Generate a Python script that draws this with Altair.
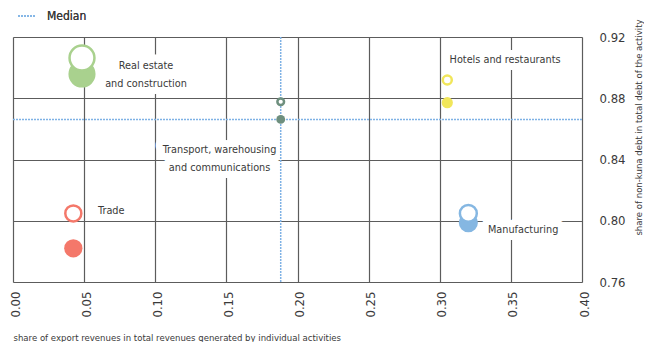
import math
import statistics
import altair as alt
import pandas as pd

# ---- data ----
sectors = ["Real estate and construction", "Hotels and restaurants",
           "Transport, warehousing and communications", "Trade", "Manufacturing"]
export_share = [0.0485, 0.3053, 0.1882, 0.0424, 0.3201]
debt_prev = [0.9063, 0.8919, 0.8777, 0.8048, 0.8048]   # open circles
debt_curr = [0.8958, 0.8771, 0.8662, 0.7820, 0.7987]   # filled circles
bubble = [735, 125, 79, 333, 366]
colors = ["#a9d18e", "#f1e65a", "#6e8f7e", "#f4786a", "#85b7e2"]

label_text = ["Real estate\nand construction", "Hotels and restaurants",
              "Transport, warehousing\nand communications", "Trade", "Manufacturing"]
label_x = [0.0935, 0.3459, 0.1452, 0.0598, 0.3339]
label_y = [0.9011, 0.9050, 0.8460, 0.8065, 0.7939]
label_align = ["center", "center", "center", "left", "left"]

x_ticks = [0.0, 0.05, 0.10, 0.15, 0.20, 0.25, 0.30, 0.35, 0.40]
y_ticks = [0.76, 0.80, 0.84, 0.88, 0.92]

FONT = "Liberation Sans Narrow, DejaVu Sans Condensed, Roboto Condensed, Liberation Sans, sans-serif"
TXT = "#3a3a3a"
MED = "#7fb2e5"
GRID = "#5c5c5c"
STROKE_W = 2.5

pts = pd.DataFrame({"sector": sectors, "x": export_share, "prev": debt_prev,
                    "curr": debt_curr, "w": bubble})
lab = pd.DataFrame({"text": label_text, "x": label_x, "y": label_y, "align": label_align})
med = pd.DataFrame({"lab": ["Median"],
                    "mx": [statistics.median(export_share)],
                    "my": [statistics.median(debt_curr)]})

xs = alt.Scale(domain=[0, 0.4], nice=False, zero=False)
ys = alt.Scale(domain=[0.76, 0.92], nice=False, zero=False)
cs = alt.Scale(domain=sectors, range=colors)

x_axis = alt.Axis(values=x_ticks, format=".2f", labelAngle=270, labelAlign="right",
                  labelBaseline="middle", labelPadding=9, labelOffset=2,
                  ticks=False, domain=False,
                  grid=True, gridColor=GRID, gridWidth=1.2, labelFontSize=13,
                  labelColor=TXT, labelFont=FONT,
                  title="share of export revenues in total revenues generated by individual activities",
                  titleAnchor="start", titleAlign="left", titleX=0, titleY=55,
                  titleBaseline="middle", titleFontSize=9.5, titleFontWeight="normal",
                  titleColor=TXT, titleFont=FONT)
y_axis = alt.Axis(values=y_ticks, format=".2f", orient="right", labelPadding=17,
                  labelAlign="left", ticks=False, domain=False, grid=True,
                  gridColor=GRID, gridWidth=1.2, labelFontSize=13, labelColor=TXT,
                  labelFont=FONT,
                  title="share of non-kuna debt in total debt of the activity",
                  titleAngle=270, titleX=56, titleY=90, titleAlign="center",
                  titleBaseline="middle", titleFontSize=9.5, titleFontWeight="normal",
                  titleColor=TXT, titleFont=FONT)

base_pts = alt.Chart(pts)


def text_layers(align, halo):
    props = dict(align=align, baseline="middle", lineBreak="\n", lineHeight=18,
                 fontSize=10.8, font=FONT)
    if halo:
        props.update(stroke="white", strokeWidth=14, strokeJoin="round", fill="white")
    else:
        props.update(color=TXT)
    return alt.Chart(lab).transform_filter(alt.datum.align == align).mark_text(**props).encode(
        x=alt.X("x:Q", scale=xs, axis=x_axis),
        y=alt.Y("y:Q", scale=ys, axis=y_axis),
        text="text:N")


halo = text_layers("center", True) + text_layers("left", True)
texts = text_layers("center", False) + text_layers("left", False)

med_legend = alt.Legend(title=None, orient="none", legendX=4, legendY=-31,
                        symbolType="stroke", symbolSize=324, symbolStrokeWidth=1.5,
                        symbolDash=[2, 1], labelOffset=10, labelFontSize=12,
                        labelFont=FONT, labelColor=TXT, padding=0)
med_color = alt.Color("lab:N", scale=alt.Scale(domain=["Median"], range=[MED]),
                      legend=med_legend)

med_base = alt.Chart(med)
med_v = med_base.mark_rule(strokeDash=[2, 1], strokeWidth=1.5).encode(
    x=alt.X("mx:Q", scale=xs), color=med_color)
med_h = med_base.mark_rule(strokeDash=[2, 1], strokeWidth=1.5).encode(
    y=alt.Y("my:Q", scale=ys), color=med_color)

filled = base_pts.mark_circle(opacity=1).encode(
    x=alt.X("x:Q", scale=xs), y=alt.Y("curr:Q", scale=ys),
    color=alt.Color("sector:N", scale=cs, legend=None),
    size=alt.Size("w:Q", scale=None))

opened = base_pts.transform_calculate(
    s=f"PI*pow(sqrt(datum.w/PI)-{STROKE_W/2},2)").mark_point(
    shape="circle", filled=False, fill="white", fillOpacity=1, opacity=1,
    strokeWidth=STROKE_W).encode(
    x=alt.X("x:Q", scale=xs), y=alt.Y("prev:Q", scale=ys),
    stroke=alt.Stroke("sector:N", scale=cs, legend=None),
    size=alt.Size("s:Q", scale=None))

chart = alt.layer(halo, med_v, med_h, filled, opened, texts).resolve_scale(
    color="independent").properties(
    width=569, height=245, autosize=alt.AutoSizeParams(type="none"),
    padding={"left": 5, "top": 29, "right": 62, "bottom": 60}
).configure_view(stroke="#222", strokeWidth=2).configure(background="white")

chart.save("out.html", embed_options={"renderer": "svg", "actions": False})
